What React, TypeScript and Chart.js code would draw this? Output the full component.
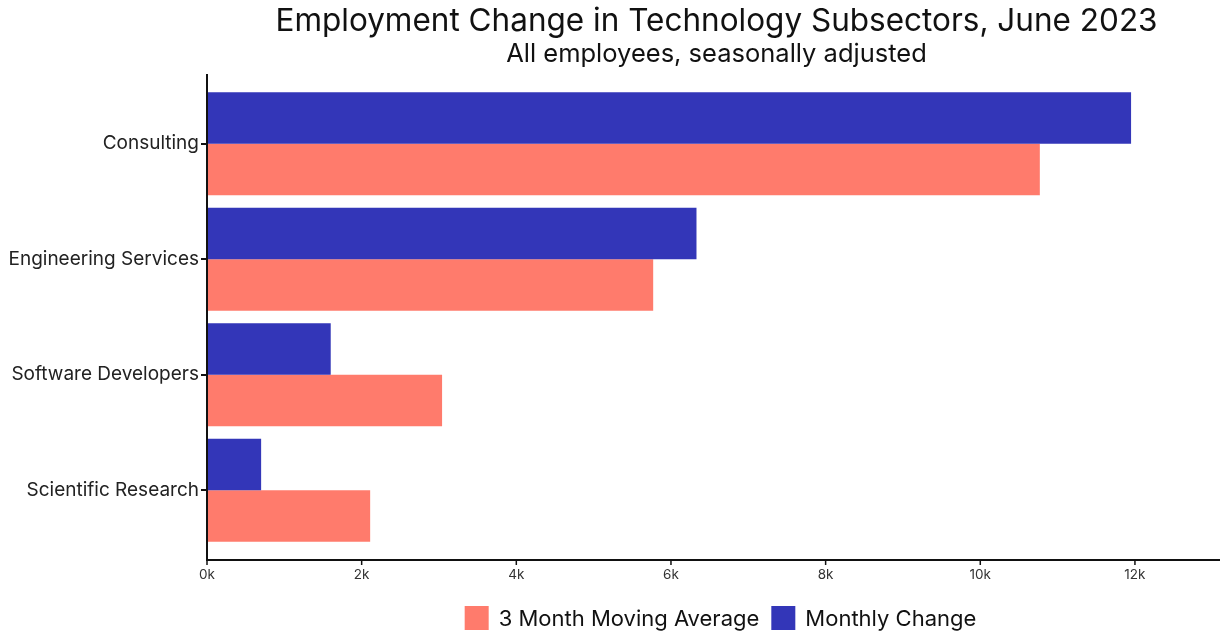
import { useEffect, useRef } from "react";
import { Chart, registerables } from "chart.js";

Chart.register(...registerables);

const categories = ["Consulting", "Engineering Services", "Software Developers", "Scientific Research"];
const monthlyChange = [11950, 6330, 1600, 700];
const movingAverage3m = [10770, 5770, 3040, 2110];
const xTicks = [0, 2000, 4000, 6000, 8000, 10000, 12000];
const seriesNames = ["Monthly Change", "3 Month Moving Average"];
const seriesColors = ["#3336B8", "#FF7B6C"];
const titleText = "Employment Change in Technology Subsectors, June 2023";
const subtitleText = "All employees, seasonally adjusted";
const FONT = "Inter, 'Noto Sans', sans-serif";

const decorPlugin = {
  id: "decor",
  afterDraw(chart: any) {
    const { ctx, chartArea: a, scales } = chart;
    const ext = 12;
    ctx.save();
    ctx.strokeStyle = "#111";
    ctx.lineWidth = 2;
    ctx.beginPath();
    ctx.moveTo(a.left, a.top - ext);
    ctx.lineTo(a.left, a.bottom + ext + 1);
    ctx.stroke();
    ctx.beginPath();
    ctx.moveTo(a.left - 1, a.bottom + ext);
    ctx.lineTo(a.right, a.bottom + ext);
    ctx.stroke();
    ctx.lineWidth = 1.5;
    for (const v of xTicks) {
      const px = scales.x.getPixelForValue(v);
      ctx.beginPath();
      ctx.moveTo(px, a.bottom + ext);
      ctx.lineTo(px, a.bottom + ext + 5);
      ctx.stroke();
    }
    const cx = (a.left + a.right) / 2 + 3;
    ctx.fillStyle = "#111";
    ctx.textAlign = "center";
    ctx.textBaseline = "middle";
    ctx.font = `31.5px ${FONT}`;
    ctx.fillText(titleText, cx, 22);
    ctx.font = `25.5px ${FONT}`;
    ctx.fillText(subtitleText, cx, 54);

    // legend (reverse order)
    const items = [1, 0];
    ctx.font = `22px ${FONT}`;
    const box = 24, gapText = 10, gapItem = 12;
    let total = 0;
    items.forEach((i, k) => {
      total += box + gapText + ctx.measureText(seriesNames[i]).width;
      if (k < items.length - 1) total += gapItem;
    });
    let x = cx + 4 - total / 2;
    const ly = 618;
    ctx.textAlign = "left";
    items.forEach((i) => {
      ctx.fillStyle = seriesColors[i];
      ctx.fillRect(x, ly - box / 2, box, box);
      x += box + gapText;
      ctx.fillStyle = "#111";
      ctx.fillText(seriesNames[i], x, ly + 1);
      x += ctx.measureText(seriesNames[i]).width + gapItem;
    });
    ctx.restore();
  },
};

export default function App() {
  const ref = useRef<HTMLCanvasElement>(null);
  useEffect(() => {
    if (!ref.current) return;
    const chart = new Chart(ref.current, {
      type: "bar",
      data: {
        labels: categories,
        datasets: [
          { label: seriesNames[0], data: monthlyChange, backgroundColor: seriesColors[0] },
          { label: seriesNames[1], data: movingAverage3m, backgroundColor: seriesColors[1] },
        ],
      },
      options: {
        indexAxis: "y",
        animation: false,
        responsive: false,
        maintainAspectRatio: false,
        datasets: { bar: { categoryPercentage: 0.89, barPercentage: 1 } },
        layout: { padding: { top: 86, right: 0, bottom: 0, left: 0 } },
        plugins: { legend: { display: false }, title: { display: false }, tooltip: { enabled: false } },
        scales: {
          x: {
            type: "linear",
            min: 0,
            max: 13100,
            grid: { display: false, drawTicks: false, tickLength: 0 },
            border: { display: false },
            ticks: {
              padding: 19,
              font: { family: FONT, size: 13.5 },
              color: "#333",
              callback: (v: any) => `${Number(v) / 1000}k`,
            },
            afterBuildTicks: (s: any) => {
              s.ticks = xTicks.map((v) => ({ value: v }));
            },
            afterFit: (s: any) => {
              s.height = 83;
            },
          },
          y: {
            grid: { display: true, drawOnChartArea: false, drawTicks: true, tickLength: 6, color: "#111", lineWidth: 2, offset: false },
            border: { display: false },
            ticks: { padding: 2, font: { family: FONT, size: 19 }, color: "#222" },
            afterFit: (s: any) => {
              s.width = 207;
            },
          },
        },
      },
      plugins: [decorPlugin],
    });
    return () => chart.destroy();
  }, []);
  return (
    <div style={{ position: "absolute", left: 0, top: 0, width: 1220, height: 631, background: "#fff" }}>
      <canvas ref={ref} width={1220} height={631} />
    </div>
  );
}
